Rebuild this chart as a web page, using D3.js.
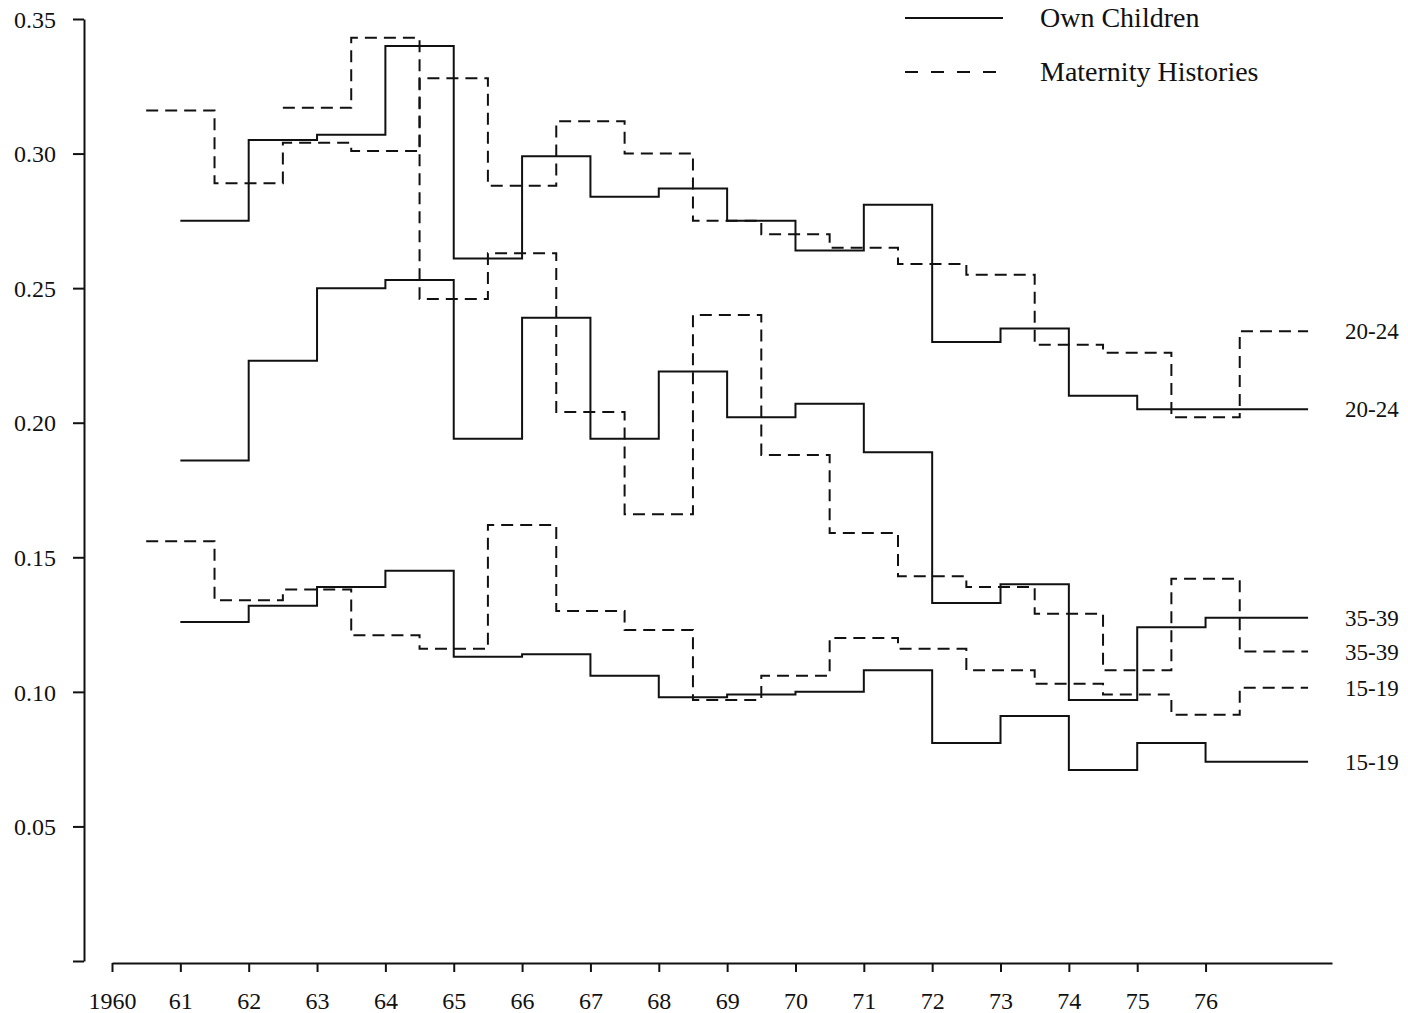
<!DOCTYPE html>
<html>
<head>
<meta charset="utf-8">
<script src="https://cdn.jsdelivr.net/npm/d3@7"></script>
<style>
  html, body { margin: 0; padding: 0; background: #fff; }
  svg { display: block; }
  .ax text { font-family: "Liberation Serif", "DejaVu Serif", serif; font-size: 24px; fill: #111; }
  .ax path, .ax line { stroke: #111; stroke-width: 2px; }
  .lbl { font-family: "Liberation Serif", "DejaVu Serif", serif; font-size: 23px; fill: #111; }
  .leg { font-family: "Liberation Serif", "DejaVu Serif", serif; font-size: 28px; fill: #111; }
</style>
</head>
<body>
<div id="chart"></div>
<script>
// year ticks and y ticks
const xTicks = [1960, 1961, 1962, 1963, 1964, 1965, 1966, 1967, 1968, 1969, 1970, 1971, 1972, 1973, 1974, 1975, 1976];
const xTickLabels = ["1960", "61", "62", "63", "64", "65", "66", "67", "68", "69", "70", "71", "72", "73", "74", "75", "76"];
const yTicks = [0, 0.05, 0.10, 0.15, 0.20, 0.25, 0.30, 0.35];
const endYear = 1977.5;

// Own Children estimates: one value per calendar year from 1961
const ocStart = 1961;
const oc2024 = [0.275, 0.305, 0.307, 0.340, 0.261, 0.299, 0.284, 0.287, 0.275, 0.264, 0.281, 0.230, 0.235, 0.210, 0.205, 0.205];
const oc3539 = [0.186, 0.223, 0.250, 0.253, 0.194, 0.239, 0.194, 0.219, 0.202, 0.207, 0.189, 0.133, 0.140, 0.097, 0.124, 0.1275];
const oc1519 = [0.126, 0.132, 0.139, 0.145, 0.113, 0.114, 0.106, 0.098, 0.099, 0.100, 0.108, 0.081, 0.091, 0.071, 0.081, 0.074];

// Maternity Histories: mid-year to mid-year
const mh2024Start = 1960.5;
const mh2024 = [0.316, 0.289, 0.304, 0.301, 0.328, 0.288, 0.312, 0.300, 0.275, 0.270, 0.265, 0.259, 0.255, 0.229, 0.226, 0.202, 0.234];
const mh3539Start = 1962.5;
const mh3539 = [0.317, 0.343, 0.246, 0.263, 0.204, 0.166, 0.240, 0.188, 0.159, 0.143, 0.139, 0.129, 0.108, 0.142, 0.115];
const mh1519Start = 1960.5;
const mh1519 = [0.156, 0.134, 0.138, 0.121, 0.116, 0.162, 0.130, 0.123, 0.097, 0.106, 0.120, 0.116, 0.108, 0.103, 0.099, 0.0915, 0.1015];

const series = [
  { start: ocStart, vals: oc2024, dash: null, label: "20-24" },
  { start: ocStart, vals: oc3539, dash: null, label: "35-39" },
  { start: ocStart, vals: oc1519, dash: null, label: "15-19" },
  { start: mh2024Start, vals: mh2024, dash: "12,7", label: "20-24" },
  { start: mh3539Start, vals: mh3539, dash: "12,7", label: "35-39" },
  { start: mh1519Start, vals: mh1519, dash: "12,7", label: "15-19" }
];

const W = 1408, H = 1013;
const svg = d3.select("#chart").append("svg").attr("width", W).attr("height", H);

const x = d3.scaleLinear().domain([1960, 1977.85]).range([112, 1332]);
const y = d3.scaleLinear().domain([0, 0.35]).range([961, 19]);
const yAxisX = 84;

// y axis
const gy = svg.append("g").attr("class", "ax").attr("transform", `translate(${yAxisX},0)`)
  .call(d3.axisLeft(y).tickValues(yTicks).tickSize(11).tickSizeOuter(0).tickPadding(17)
    .tickFormat((d) => (d === 0 ? "" : d3.format(".2f")(d))));
gy.selectAll("text").attr("dy", "0.34em");

// x axis (starts at 1960, detached from y axis)
const gx = svg.append("g").attr("class", "ax").attr("transform", `translate(0,${y(0) + 2})`)
  .call(d3.axisBottom(x).tickValues(xTicks).tickSize(9).tickSizeOuter(0).tickPadding(20)
    .tickFormat((d, i) => xTickLabels[i]));

// step lines
const line = d3.line().x((d) => x(d[0])).y((d) => y(d[1])).curve(d3.curveStepAfter);
series.forEach((s) => {
  const pts = s.vals.map((v, i) => [s.start + i, v]);
  pts.push([endYear, s.vals[s.vals.length - 1]]);
  svg.append("path").datum(pts).attr("d", line)
    .attr("fill", "none").attr("stroke", "#111").attr("stroke-width", 2)
    .attr("stroke-dasharray", s.dash);
  svg.append("text").attr("class", "lbl")
    .attr("x", x(endYear) + 37).attr("y", y(s.vals[s.vals.length - 1])).attr("dy", "0.35em")
    .text(s.label);
});

// legend
const leg = [
  { name: "Own Children", dash: null, y: 18 },
  { name: "Maternity Histories", dash: "13,13", y: 72 }
];
leg.forEach((l) => {
  svg.append("line").attr("x1", 905).attr("x2", 1003).attr("y1", l.y).attr("y2", l.y)
    .attr("stroke", "#111").attr("stroke-width", 2).attr("stroke-dasharray", l.dash);
  svg.append("text").attr("class", "leg").attr("x", 1040).attr("y", l.y).attr("dy", "0.33em").text(l.name);
});
</script>
</body>
</html>
